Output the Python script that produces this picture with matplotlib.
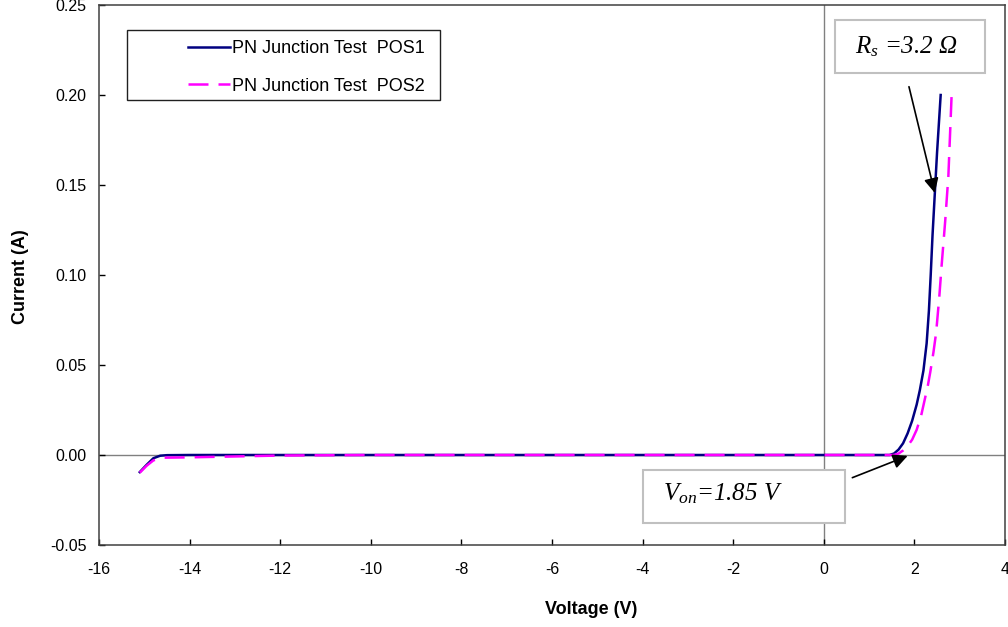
import matplotlib
matplotlib.use("Agg")
import matplotlib.pyplot as plt
from matplotlib.patches import Rectangle
from matplotlib.ticker import FormatStrFormatter, MultipleLocator

plt.rcParams['font.family'] = ['Liberation Sans', 'DejaVu Sans']
plt.rcParams['mathtext.fontset'] = 'custom'
plt.rcParams['mathtext.it'] = 'Liberation Serif:italic'
plt.rcParams['mathtext.rm'] = 'Liberation Serif'
plt.rcParams['axes.unicode_minus'] = False

# ---- data ----
v_pos1 = [-15.1, -14.95, -14.8, -14.65, -14.5, -14.0, -12.0, -10.0, -8.0, -6.0, -4.0, -2.0,
          0.0, 1.0, 1.45, 1.55, 1.65, 1.75, 1.85, 1.95, 2.05, 2.12, 2.20, 2.27, 2.32, 2.36,
          2.40, 2.45, 2.50, 2.55, 2.58]
i_pos1 = [-0.0095, -0.0055, -0.0018, -0.0004, -0.0001, 0.0, 0.0, 0.0, 0.0, 0.0, 0.0, 0.0,
          0.0, 0.0, 0.0, 0.0008, 0.003, 0.0065, 0.012, 0.019, 0.028, 0.036, 0.047, 0.062, 0.080, 0.100,
          0.122, 0.145, 0.168, 0.188, 0.200]

v_pos2 = [-15.1, -14.95, -14.8, -14.6, -14.0, -13.0, -12.0, -10.0, -8.0, -6.0, -4.0, -2.0,
          0.0, 1.0, 1.55, 1.65, 1.75, 1.85, 1.95, 2.05, 2.15, 2.23, 2.30, 2.35, 2.42, 2.48,
          2.55, 2.60, 2.68, 2.75, 2.82]
i_pos2 = [-0.0098, -0.006, -0.003, -0.0015, -0.0013, -0.0008, -0.0003, 0.0, 0.0, 0.0, 0.0, 0.0,
          0.0, 0.0, 0.0, 0.0008, 0.0025, 0.005, 0.0085, 0.014, 0.022, 0.031, 0.039, 0.046, 0.057, 0.068,
          0.088, 0.105, 0.130, 0.155, 0.199]

labels = ["PN Junction Test  POS1", "PN Junction Test  POS2"]
x_ticks = [-16, -14, -12, -10, -8, -6, -4, -2, 0, 2, 4]
rs_text = r"$R_s$ =3.2 Ω"
von_text = r"$V_{on}$=1.85 V"

# ---- figure ----
W, H = 1008, 627
fig = plt.figure(figsize=(W / 100, H / 100), dpi=100)
ax = fig.add_axes([99 / W, 1 - 545 / H, (1005 - 99) / W, (545 - 5) / H])

ax.axhline(0, color='#808080', lw=1.0, zorder=1)
ax.axvline(0, color='#808080', lw=1.0, zorder=1)

l1, = ax.plot(v_pos1, i_pos1, color='#000080', lw=1.8, zorder=3, label=labels[0])
l2, = ax.plot(v_pos2, i_pos2, color='#FF00FF', lw=1.8, dashes=(8, 4), zorder=3, label=labels[1])

ax.set_xlim(-16, 4)
ax.set_ylim(-0.05, 0.25)
ax.set_xticks(x_ticks)
ax.yaxis.set_major_locator(MultipleLocator(0.05))
ax.yaxis.set_major_formatter(FormatStrFormatter('%.2f'))
ax.tick_params(direction='in', length=4, width=1, labelsize=11.5, colors='#000000')
ax.tick_params(axis='x', pad=12)
ax.tick_params(axis='y', pad=9)
for s in ax.spines.values():
    s.set_color('#404040')
    s.set_linewidth(1.1)

fig.text(591 / W, 1 - 610 / H, "Voltage (V)", ha='center', va='center', fontsize=13, fontweight='bold')
fig.text(21 / W, 1 - 277 / H, "Current (A)", ha='center', va='center', rotation=90,
         fontsize=13, fontweight='bold')

# legend (manual frame)
fig.patches.append(Rectangle((127 / W, 1 - 100 / H), 313 / W, 70 / H, transform=fig.transFigure,
                             fill=False, edgecolor='#202020', lw=1.0))
fig.legend(handles=[l1, l2], loc='upper left', bbox_to_anchor=(188 / W, 1 - 40 / H),
           frameon=False, borderpad=0, borderaxespad=0, fontsize=13, handlelength=2.3,
           handletextpad=0.15, labelspacing=1.15)

# annotation boxes
fig.patches.append(Rectangle((835 / W, 1 - 73 / H), 150 / W, 53 / H, transform=fig.transFigure,
                             facecolor='white', edgecolor='#c0c0c0', lw=1.5, zorder=5))
fig.text(906 / W, 1 - 47 / H, rs_text, ha='center', va='center', fontsize=18,
         family='Liberation Serif', style='italic', zorder=6)
fig.patches.append(Rectangle((643 / W, 1 - 523 / H), 202 / W, 53 / H, transform=fig.transFigure,
                             facecolor='white', edgecolor='#c0c0c0', lw=1.5, zorder=5))
fig.text(663 / W, 1 - 494 / H, von_text, ha='left', va='center', fontsize=18,
         family='Liberation Serif', style='italic', zorder=6)

# arrows
ax.annotate("", xy=(2.45, 0.1456), xytext=(1.88, 0.2046),
            arrowprops=dict(arrowstyle='-|>', mutation_scale=22, color='black', lw=1.2,
                            shrinkA=0, shrinkB=0), zorder=6)
ax.annotate("", xy=(1.85, -0.0005), xytext=(0.63, -0.0126),
            arrowprops=dict(arrowstyle='-|>', mutation_scale=22, color='black', lw=1.2,
                            shrinkA=0, shrinkB=0), zorder=6, annotation_clip=False)

fig.savefig("out.png", dpi=100)
